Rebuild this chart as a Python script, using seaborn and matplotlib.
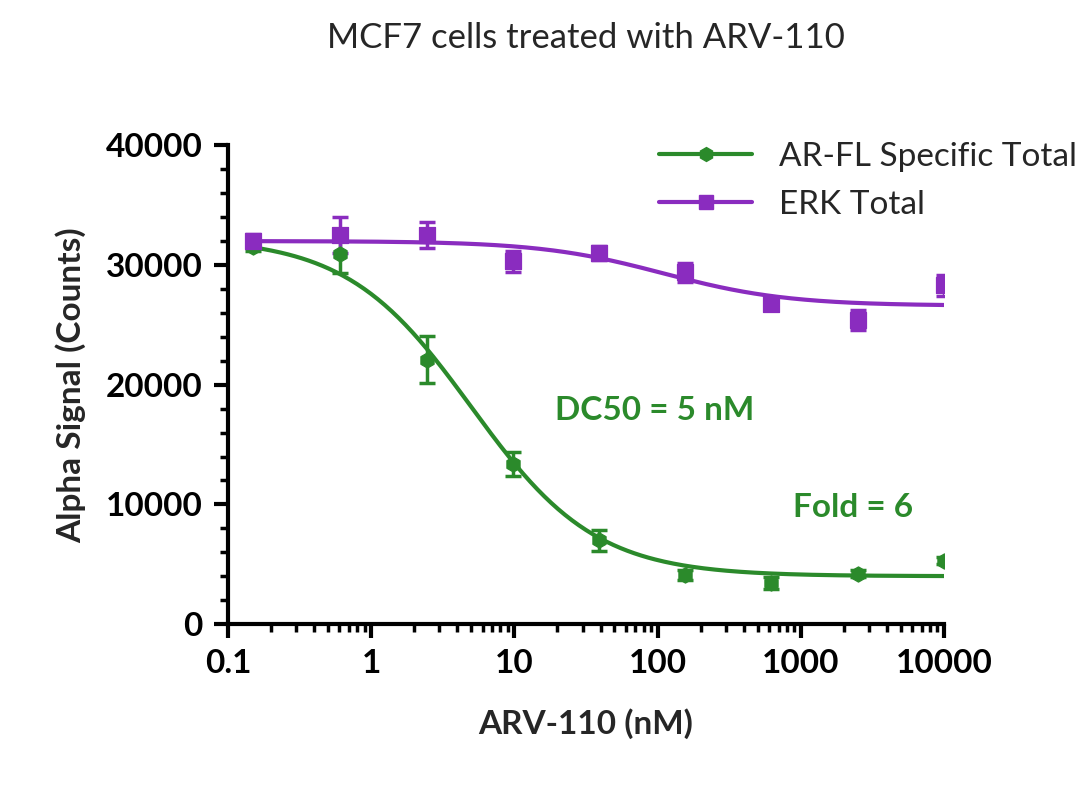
import numpy as np
import pandas as pd
import matplotlib.pyplot as plt
import seaborn as sns
from matplotlib.ticker import LogLocator, MultipleLocator

sns.set_style("ticks")
plt.rcParams['font.family'] = ['Lato', 'DejaVu Sans']

# data
conc = [0.15, 0.61, 2.44, 9.77, 39.1, 156, 625, 2500, 10000]
ar_mean = [31500, 30900, 22100, 13400, 7000, 4100, 3400, 4200, 5300]
ar_err = [300, 1600, 2000, 1000, 900, 400, 500, 300, 300]
erk_mean = [32000, 32500, 32500, 30300, 31000, 29400, 26700, 25400, 28300]
erk_err = [600, 1500, 1100, 900, 600, 800, 500, 800, 900]

# 4PL fit parameters (top, bottom, ec50, hill)
ar_fit = (32300, 4000, 5.0, 1.0)
erk_fit = (32000, 26600, 110, 1.0)

green = '#2b8a2b'
purple = '#8a2cbf'

def four_pl(x, top, bottom, ec50, hill):
    return bottom + (top - bottom) / (1 + (x / ec50) ** hill)

df = pd.DataFrame({'conc': conc, 'ar': ar_mean, 'erk': erk_mean})

fig = plt.figure(figsize=(10.8, 7.94), dpi=100)
ax = fig.add_axes([0.211, 0.214, 0.663, 0.603])

xs = np.logspace(np.log10(0.15), 4, 300)
for col, err, fit, color, marker, label in [
        ('ar', ar_err, ar_fit, green, 'h', 'AR-FL Specific Total'),
        ('erk', erk_err, erk_fit, purple, 's', 'ERK Total')]:
    ax.errorbar(df['conc'], df[col], yerr=err, fmt='none', ecolor=color,
                elinewidth=2.5, capsize=6, capthick=2.5)
    sns.scatterplot(data=df, x='conc', y=col, marker=marker, color=color,
                    s=120, edgecolor=color, ax=ax, zorder=3)
    sns.lineplot(x=xs, y=four_pl(xs, *fit), color=color, lw=3, ax=ax)
    ax.plot([], [], color=color, marker=marker, lw=3, ms=10, label=label)

ax.set_xscale('log')
ax.set_xlim(0.1, 10000)
ax.set_ylim(0, 40000)
ax.set_xticks([0.1, 1, 10, 100, 1000, 10000])
ax.set_xticklabels(['0.1', '1', '10', '100', '1000', '10000'])
ax.xaxis.set_minor_locator(LogLocator(base=10, subs=np.arange(2, 10)))
ax.yaxis.set_major_locator(MultipleLocator(10000))
ax.yaxis.set_minor_locator(MultipleLocator(2000))
ax.tick_params(which='major', length=10, width=3, labelsize=24, colors='black',
               pad=8)
ax.tick_params(which='minor', length=6, width=2.5, colors='black')
for lab in ax.get_xticklabels() + ax.get_yticklabels():
    lab.set_fontweight('bold')
sns.despine(ax=ax)
for s in ['left', 'bottom']:
    ax.spines[s].set_linewidth(3)
    ax.spines[s].set_color('black')

ax.set_xlabel('ARV-110 (nM)', fontsize=24, fontweight='bold', labelpad=22)
ax.set_ylabel('Alpha Signal (Counts)', fontsize=24, fontweight='bold', labelpad=14)
ax.set_title('MCF7 cells treated with ARV-110', fontsize=25, pad=70)

ax.text(0.457, 0.447, 'DC50 = 5 nM', transform=ax.transAxes, color=green,
        fontsize=24, fontweight='bold', va='center')
ax.text(0.789, 0.244, 'Fold = 6', transform=ax.transAxes, color=green,
        fontsize=24, fontweight='bold', va='center')

ax.legend(loc='upper left', bbox_to_anchor=(0.56, 1.07), frameon=False,
          fontsize=24, handlelength=2.8, labelspacing=0.55)

fig.savefig('out.png', dpi=100)
